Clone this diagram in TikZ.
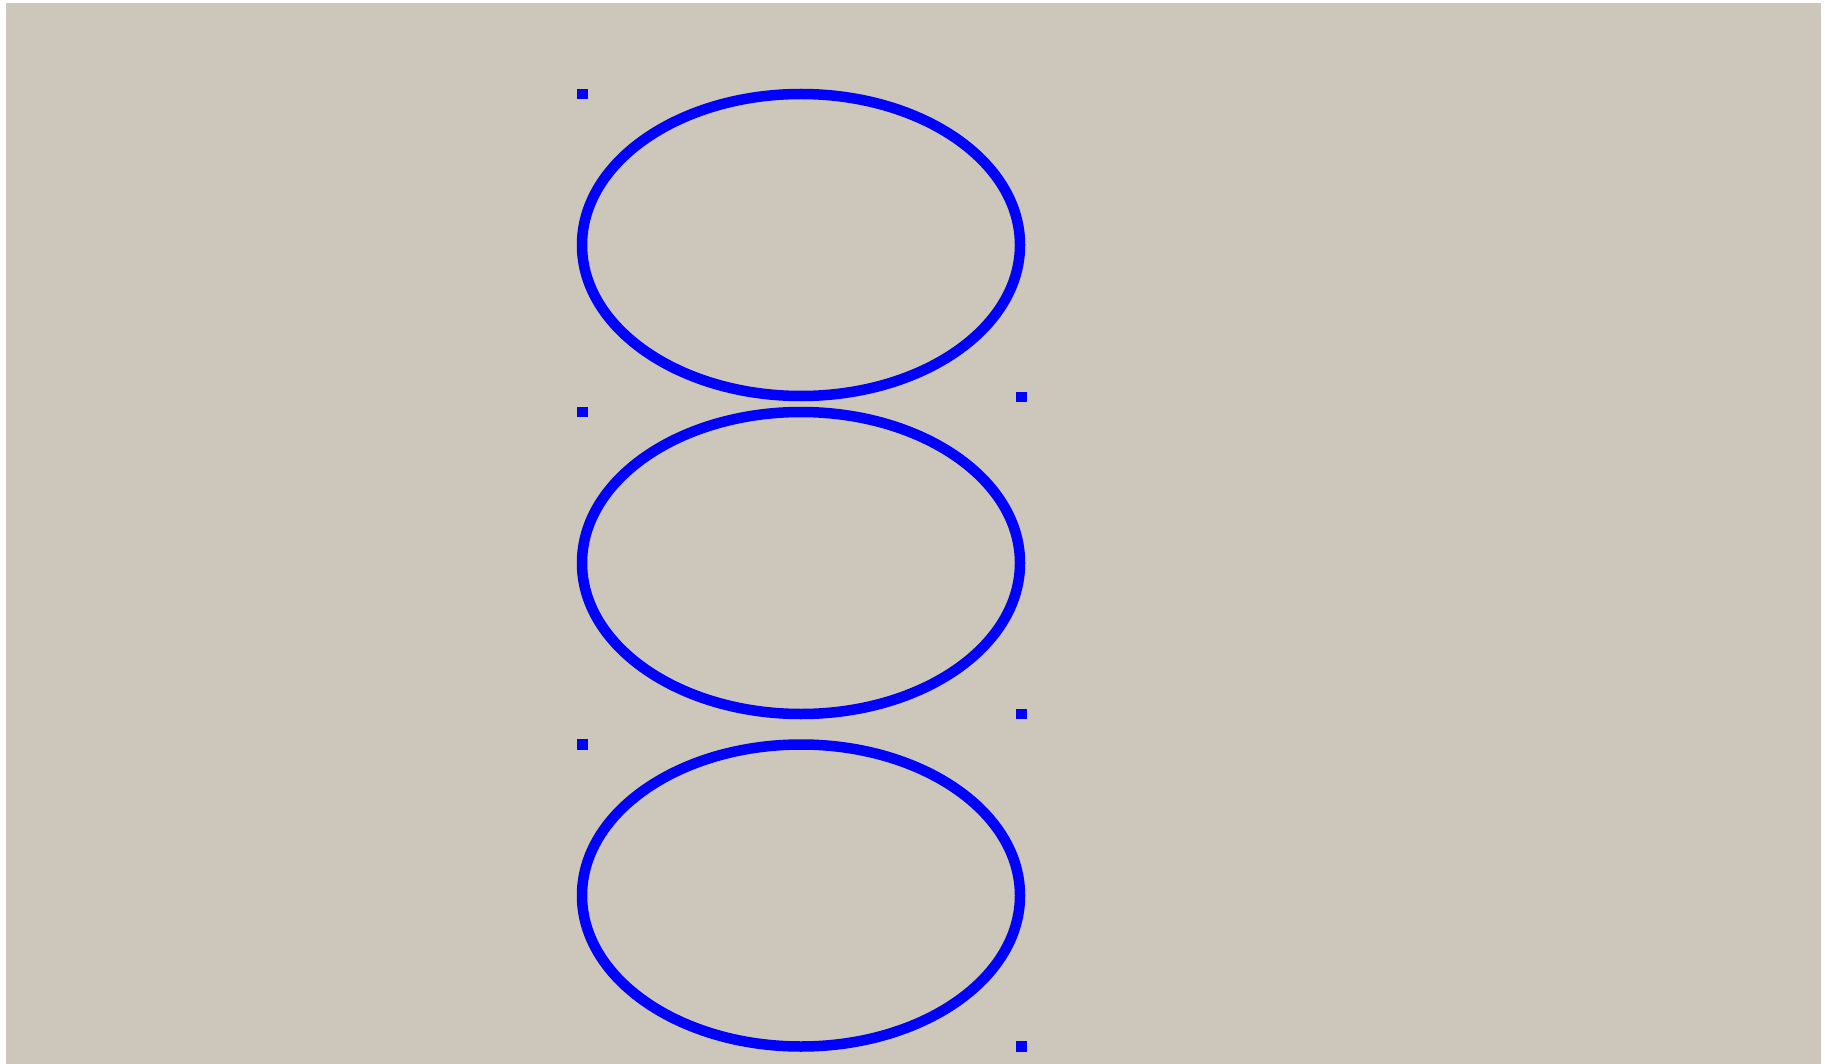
\documentclass[tikz,border=0pt]{standalone}
\usetikzlibrary{shapes.geometric}
\definecolor{bgcol}{RGB}{205,199,187}
\tikzset{
  ring/.style={ellipse, draw=blue, line width=10.5pt, inner sep=0pt,
    minimum width=438pt, minimum height=302pt},
  marker/.style={rectangle, fill=blue, draw=none, inner sep=0pt,
    minimum width=11pt, minimum height=10.5pt}
}
\begin{document}
\begin{tikzpicture}[x=1pt,y=-1pt]
\useasboundingbox (0,0) rectangle (1825,1064);
\fill[bgcol] (6,3) rectangle (1821,1064);
\node[ring] (e1) at (801,245) {};
\node[ring] (e2) at (801,563) {};
\node[ring] (e3) at (801,895.5) {};
\node[marker] (s1) at (582.5,94.2) {};
\node[marker] (s2) at (582.5,412) {};
\node[marker] (s3) at (582.5,744.5) {};
\node[marker] (s4) at (1021,396.8) {};
\node[marker] (s5) at (1021,714) {};
\node[marker] (s6) at (1021,1046.7) {};
\end{tikzpicture}
\end{document}
